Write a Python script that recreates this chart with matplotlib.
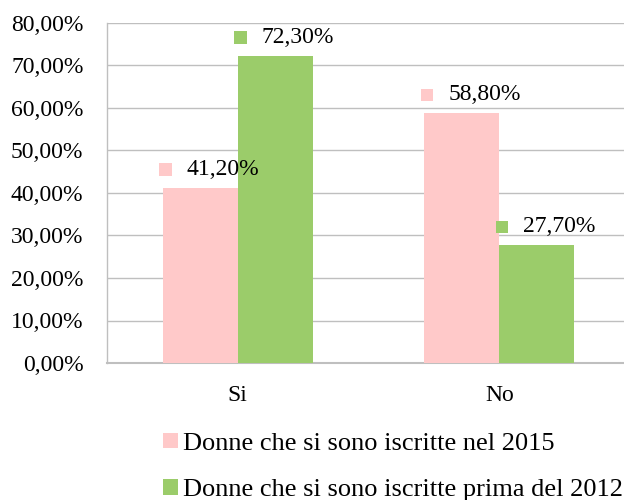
import matplotlib
matplotlib.use("Agg")
import matplotlib.pyplot as plt
from matplotlib.ticker import FuncFormatter, MultipleLocator
from matplotlib.patches import Patch, Rectangle
from matplotlib.offsetbox import AnnotationBbox, HPacker, DrawingArea, TextArea
import numpy as np

categories = ["Si", "No"]
series_names = ["Donne che si sono iscritte nel 2015",
                "Donne che si sono iscritte prima del 2012"]
values_2015 = [0.412, 0.588]
values_2012 = [0.723, 0.277]
colors = ["#FFC9C9", "#9BCC6A"]

plt.rcParams['font.family'] = ['Liberation Serif', 'DejaVu Serif']
FS = 17
LFS = 19

fig = plt.figure(figsize=(6.24, 5.0), dpi=100)
ax = fig.add_axes([107/624, (500-363)/500, 523/624, (363-23)/500])

x = np.arange(len(categories))
w = 0.286
series = [values_2015, values_2012]
for i, (vals, col) in enumerate(zip(series, colors)):
    xs = x + (i - 0.5) * w
    ax.bar(xs, vals, width=w, color=col, zorder=3)
    for xi, v in zip(xs, vals):
        da = DrawingArea(9, 9, 0, 0)
        da.add_artist(Rectangle((0, 0), 9, 9, facecolor=col, edgecolor='none'))
        ta = TextArea(f"{v*100:.2f}%".replace('.', ','),
                      textprops=dict(fontsize=FS, color='black'))
        box = HPacker(children=[da, ta], align='center', pad=0, sep=11)
        ab = AnnotationBbox(box, (xi, v), xybox=(6.5, 13.2),
                            xycoords='data', boxcoords='offset points',
                            frameon=False, box_alignment=(0.5, 0.5), pad=0)
        ab.set_zorder(10)
        ax.add_artist(ab)

ax.set_xlim(-0.5, 1.5)
ax.set_ylim(0, 0.8)
ax.yaxis.set_major_locator(MultipleLocator(0.1))
ax.yaxis.set_major_formatter(FuncFormatter(lambda v, p: f"{v*100:.2f}%".replace('.', ',')))
ax.set_xticks(x)
ax.set_xticklabels(categories)
ax.tick_params(axis='both', length=0, labelsize=FS)
ax.tick_params(axis='y', pad=17)
ax.tick_params(axis='x', pad=15.5)
ax.grid(axis='y', color='#BFBFBF', linewidth=1.0, zorder=0)
for s in ['top', 'right']:
    ax.spines[s].set_visible(False)
ax.spines['left'].set_color('#BFBFBF')
ax.spines['left'].set_linewidth(1.0)
ax.spines['bottom'].set_color('#BFBFBF')
ax.spines['bottom'].set_linewidth(1.5)

handles = [Patch(facecolor=c, edgecolor='none') for c in colors]
fig.legend(handles, series_names, loc='upper left',
           bbox_to_anchor=(163/624, (500-432.5)/500), frameon=False,
           fontsize=LFS, handlelength=0.55, handleheight=0.55,
           handletextpad=0.2, labelspacing=0.91, borderpad=0, borderaxespad=0)

fig.savefig("out.png", dpi=100)
